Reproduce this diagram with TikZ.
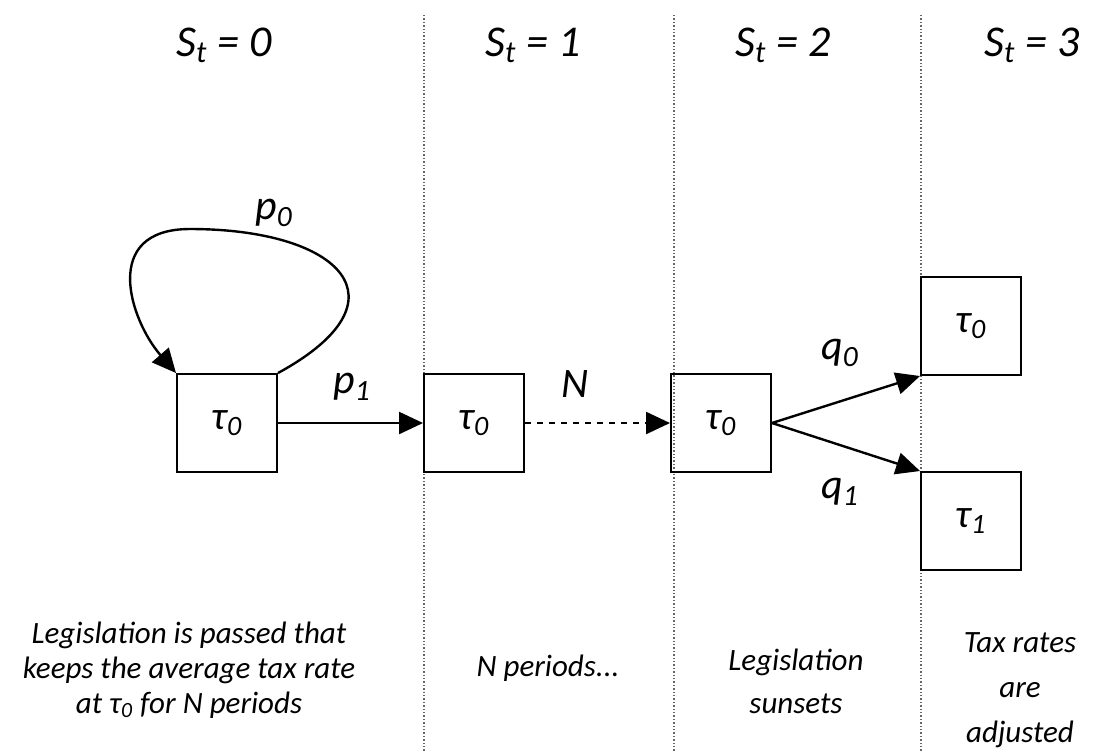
\documentclass[tikz,border=0pt]{standalone}
\usepackage{fontspec}
\setmainfont{Carlito}
\usetikzlibrary{arrows.meta, positioning}
\newcommand{\sub}[1]{\textsubscript{#1}}

\begin{document}
\begin{tikzpicture}[x=0.5pt, y=-0.5pt,
  state/.style={draw, line width=1pt, minimum width=50pt, minimum height=49pt, inner sep=0pt, font=\itshape\fontsize{20}{24}\selectfont},
  lbl/.style={font=\itshape\fontsize{21}{25}\selectfont},
  hdr/.style={font=\itshape\fontsize{22}{26}\selectfont},
  note/.style={font=\itshape\fontsize{15.5}{17.5}\selectfont, align=center},
  sep/.style={black!60, densely dotted, line width=0.7pt},
  trans/.style={line width=1.2pt, -{Triangle[length=12pt, width=11pt]}}]
  \useasboundingbox (0,0) rectangle (1098,752);

  % Period separators
  \draw[sep] (424,15) -- (424,752);
  \draw[sep] (674,15) -- (674,752);
  \draw[sep] (921,15) -- (921,752);

  % Headers
  \node[hdr] (h0) at (224,45) {S\sub{t} = 0};
  \node[hdr] (h1) at (533,45) {S\sub{t} = 1};
  \node[hdr] (h2) at (783,45) {S\sub{t} = 2};
  \node[hdr] (h3) at (1032,45) {S\sub{t} = 3};

  % States
  \node[state] (s0) at (227,423) {τ\sub{0}};
  \node[state] (s1) at (474,423) {τ\sub{0}};
  \node[state] (s2) at (721,423) {τ\sub{0}};
  \node[state] (s3a) at (971,326) {τ\sub{0}};
  \node[state] (s3b) at (971,521) {τ\sub{1}};

  % Transitions
  \draw[trans] (s0.north east) .. controls (412,300) and (340,229) .. (190,229)
    .. controls (100,229) and (130,320) .. (s0.north west);
  \draw[trans] (s0) -- (s1);
  \draw[trans, dashed] (s1) -- (s2);
  \draw[trans] (s2.east) -- (s3a.south west);
  \draw[trans] (s2.east) -- (s3b.north west);

  % Transition labels
  \node[lbl] (p0) at (274,213) {p\sub{0}};
  \node[lbl] (p1) at (352,387) {p\sub{1}};
  \node[lbl] (n) at (575,384) {N};
  \node[lbl] (q0) at (840,353) {q\sub{0}};
  \node[lbl] (q1) at (840,492) {q\sub{1}};

  % Notes
  \node[note] (t0) at (189,670) {Legislation is passed that\\keeps the average tax rate\\at τ\sub{0} for N periods};
  \node[note] (t1) at (548,668) {N periods...};
  \node[note, font=\itshape\fontsize{15.5}{21.5}\selectfont] (t2) at (796,681) {Legislation\\sunsets};
  \node[note, font=\itshape\fontsize{15.5}{22.5}\selectfont] (t3) at (1020,690) {Tax rates\\are\\adjusted};
\end{tikzpicture}
\end{document}
